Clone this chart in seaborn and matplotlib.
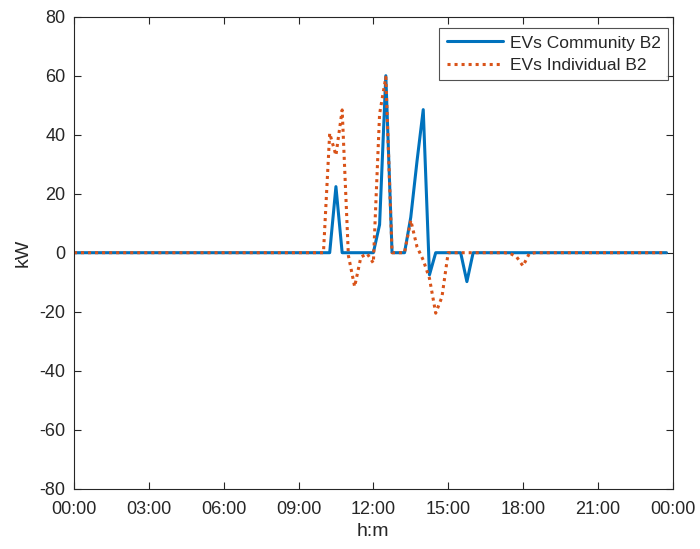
import numpy as np
import pandas as pd
import matplotlib
matplotlib.use("Agg")
import matplotlib.pyplot as plt
import seaborn as sns

# 15-minute time steps over one day (hours)
time_hours = np.arange(96) * 0.25

# EVs Community B2 (kW), one row = 2 hours (8 quarter-hours)
community_b2 = [
    0, 0, 0, 0, 0, 0, 0, 0,          # 00:00-01:45
    0, 0, 0, 0, 0, 0, 0, 0,          # 02:00-03:45
    0, 0, 0, 0, 0, 0, 0, 0,          # 04:00-05:45
    0, 0, 0, 0, 0, 0, 0, 0,          # 06:00-07:45
    0, 0, 0, 0, 0, 0, 0, 0,          # 08:00-09:45
    0, 0, 22.4, 0, 0, 0, 0, 0,       # 10:00-11:45
    0, 9.5, 60, 0, 0, 0, 12, 31,     # 12:00-13:45
    48.5, -7.5, 0, 0, 0, 0, 0, -9.8, # 14:00-15:45
    0, 0, 0, 0, 0, 0, 0, 0,          # 16:00-17:45
    0, 0, 0, 0, 0, 0, 0, 0,          # 18:00-19:45
    0, 0, 0, 0, 0, 0, 0, 0,          # 20:00-21:45
    0, 0, 0, 0, 0, 0, 0, 0,          # 22:00-23:45
]

# EVs Individual B2 (kW)
individual_b2 = [
    0, 0, 0, 0, 0, 0, 0, 0,
    0, 0, 0, 0, 0, 0, 0, 0,
    0, 0, 0, 0, 0, 0, 0, 0,
    0, 0, 0, 0, 0, 0, 0, 0,
    0, 0, 0, 0, 0, 0, 0, 0,
    0, 40.5, 33, 48.4, -1, -11.5, -1.5, -0.3,
    -3.5, 47, 59.5, 0, 0, 0, 11, 2,
    -2.5, -8.7, -20.5, -15, 0, 0, 0, 0,
    0, 0, 0, 0, 0, 0, -0.3, -1.5,
    -4.5, -0.3, 0, 0, 0, 0, 0, 0,
    0, 0, 0, 0, 0, 0, 0, 0,
    0, 0, 0, 0, 0, 0, 0, 0,
]

series_names = ["EVs Community B2", "EVs Individual B2"]
x_tick_hours = [0, 3, 6, 9, 12, 15, 18, 21, 24]
x_tick_labels = ["00:00", "03:00", "06:00", "09:00", "12:00", "15:00", "18:00", "21:00", "00:00"]
y_ticks = [-80, -60, -40, -20, 0, 20, 40, 60, 80]

df = pd.DataFrame({
    "t": np.concatenate([time_hours, time_hours]),
    "kW": community_b2 + individual_b2,
    "series": [series_names[0]] * 96 + [series_names[1]] * 96,
})

sns.set_theme(style="white")
plt.rcParams["font.family"] = ["Liberation Sans", "DejaVu Sans"]
plt.rcParams["font.size"] = 13
plt.rcParams["axes.unicode_minus"] = False

fig = plt.figure(figsize=(7.0, 5.49), dpi=100)
ax = fig.add_axes([0.1057, 0.1098, 0.8553, 0.8598])

palette = {series_names[0]: "#0072BD", series_names[1]: "#D95319"}
dashes = {series_names[0]: "", series_names[1]: (1, 1.3)}
sns.lineplot(data=df, x="t", y="kW", hue="series", style="series",
             palette=palette, dashes=dashes, linewidth=2.2, ax=ax,
             estimator=None, sort=False)

ax.set_xlim(0, 24)
ax.set_ylim(-80, 80)
ax.set_xticks(x_tick_hours)
ax.set_xticklabels(x_tick_labels)
ax.set_yticks(y_ticks)
ax.set_xlabel("h:m", fontsize=14, color="#262626", labelpad=3.5)
ax.set_ylabel("kW", fontsize=14, color="#262626", labelpad=6)

for s in ax.spines.values():
    s.set_visible(True)
    s.set_color("#262626")
    s.set_linewidth(0.8)
ax.tick_params(direction="in", length=5, width=0.8, colors="#262626",
               labelsize=13, top=True, right=True, bottom=True, left=True,
               labelcolor="#262626")
ax.tick_params(axis="x", pad=9)
ax.tick_params(axis="y", pad=6)

leg = ax.legend(loc="upper right", bbox_to_anchor=(0.9925, 0.977),
                fontsize=12.5, frameon=True, fancybox=False,
                handlelength=3.2, borderaxespad=0.0, borderpad=0.45,
                labelspacing=0.4, handletextpad=0.4)
leg.get_frame().set_edgecolor("#262626")
leg.get_frame().set_linewidth(0.8)
leg.set_title(None)

fig.savefig("out.png", dpi=100, facecolor="white")
